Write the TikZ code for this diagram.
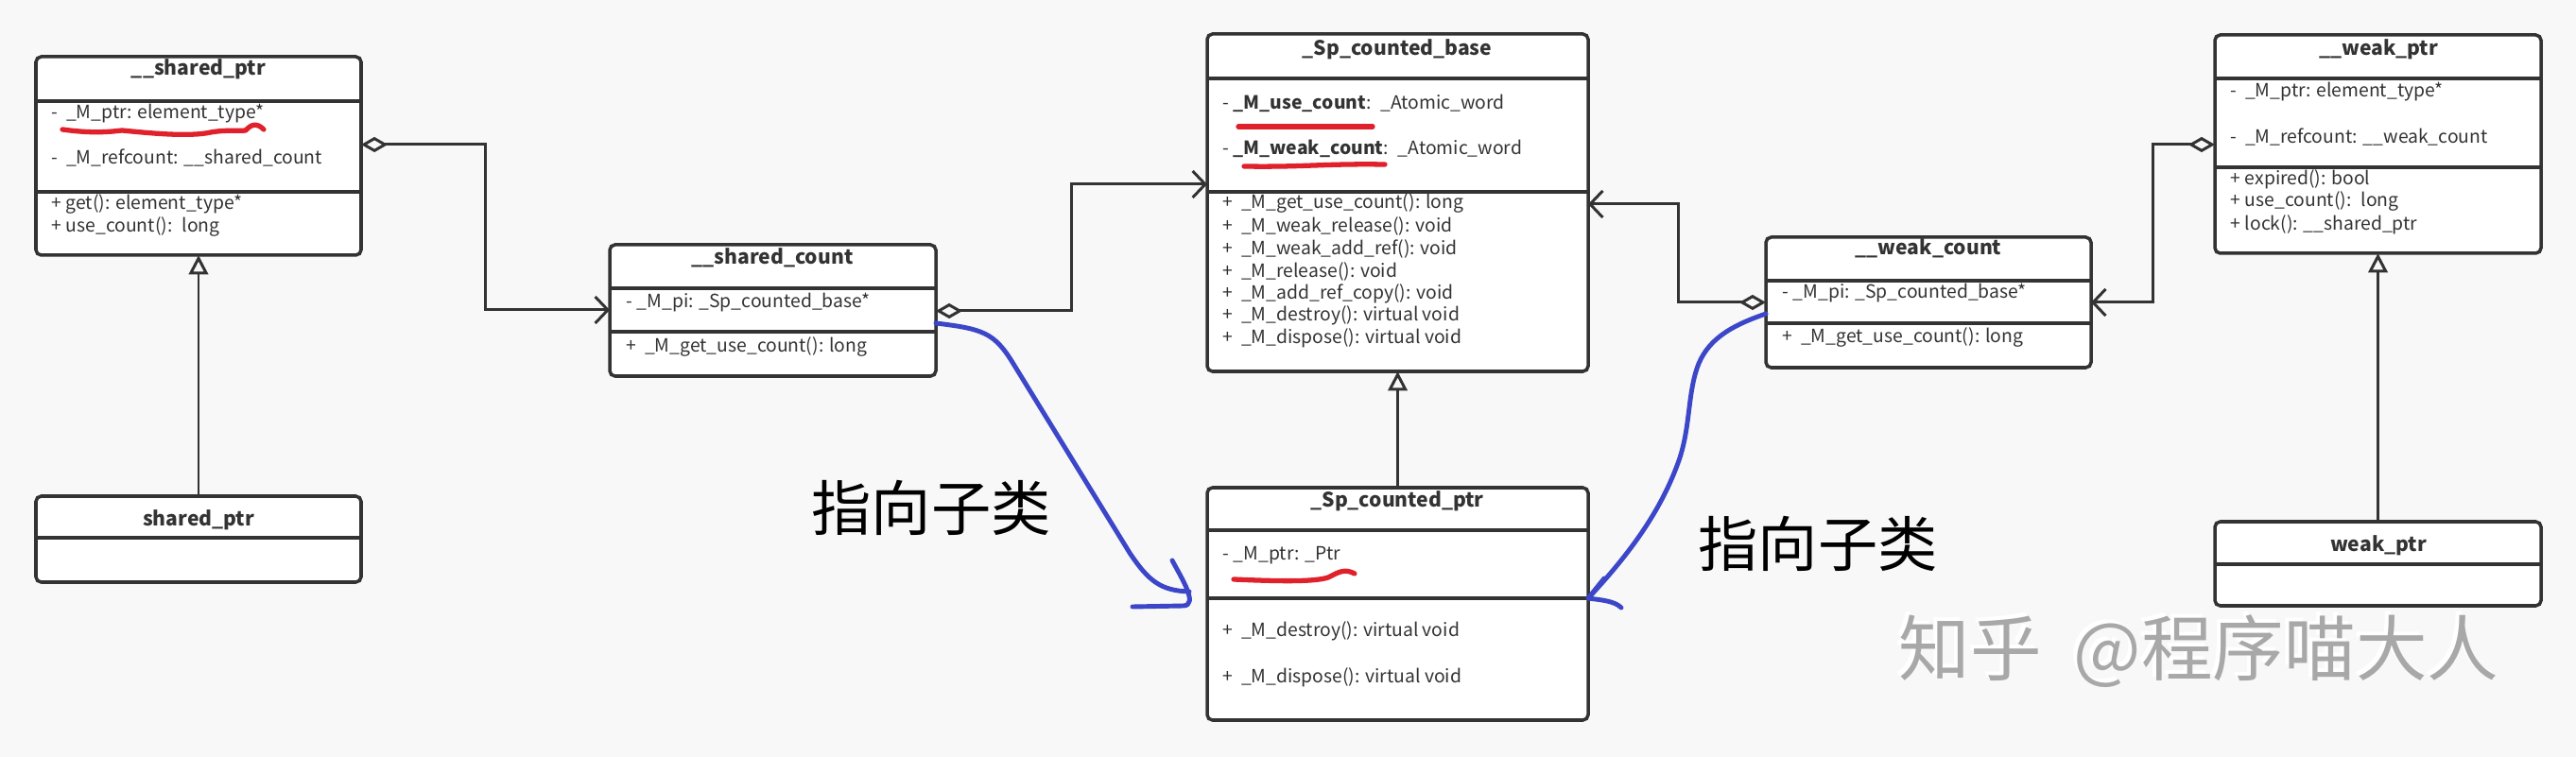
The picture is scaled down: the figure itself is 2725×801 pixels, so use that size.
\documentclass[tikz,border=0pt]{standalone}
\usepackage{fontspec}
\setmainfont{Noto Sans CJK SC}
\usetikzlibrary{arrows.meta,fit}
\definecolor{umlgray}{HTML}{333333}
\definecolor{bgcolor}{HTML}{F8F8F8}
\definecolor{penred}{HTML}{E0202A}
\definecolor{penblue}{HTML}{3C46C8}
\definecolor{markgray}{HTML}{A8A8A8}

\begin{document}
\begin{tikzpicture}[x=0.01cm, y=-0.01cm,
    umlbox/.style={draw=umlgray, line width=1pt, fill=white, rounded corners=1.6pt, inner sep=0pt, outer sep=0pt},
    umlline/.style={draw=umlgray, line width=0.9pt},
    classname/.style={font=\fontsize{6}{7}\selectfont\bfseries, text=umlgray, inner sep=0pt},
    member/.style={anchor=west, font=\fontsize{5.5}{6.6}\selectfont, text=umlgray, inner sep=0pt},
    hasa/.style={draw=umlgray, line width=0.85pt, {Diamond[open,length=8pt,width=4.6pt]}-{Straight Barb[length=3.8pt,width=8pt]}},
    isa/.style={draw=umlgray, line width=0.85pt, -{Triangle[open,length=5.8pt,width=5.8pt]}},
    redpen/.style={draw=penred, line width=1.5pt, line cap=round, line join=round},
    bluepen/.style={draw=penblue, line width=1.4pt, line cap=round, line join=round},
    note/.style={font=\fontsize{18}{20}\selectfont, inner sep=0pt},
    watermark/.style={font=\fontsize{21.5}{23}\selectfont, inner sep=0pt},
    ]
\fill[bgcolor] (0,0) rectangle (2725,801);
\useasboundingbox (0,0) rectangle (2725,801);

\node[umlbox, fit={(38,60) (382,270)}] (sptr) {};
\draw[umlline] (38,107) -- (382,107);
\draw[umlline] (38,203) -- (382,203);
\node[classname] (sptr-name) at (210,73) {\_\_shared\_ptr};
\node[member] (sptr-a1) at (54,120) {- \ \_M\_ptr: element\_type*};
\node[member] (sptr-a2) at (54,167) {- \ \_M\_refcount: \_\_shared\_count};
\node[member] (sptr-m1) at (54,216) {+ get(): element\_type*};
\node[member] (sptr-m2) at (54,240) {+ use\_count(): \ long};

\node[umlbox, fit={(38,525) (382,616)}] (sharedptr) {};
\draw[umlline] (38,569) -- (382,569);
\node[classname] (sharedptr-name) at (210,550) {shared\_ptr};

\node[umlbox, fit={(645,259) (990,398)}] (scount) {};
\draw[umlline] (645,305) -- (990,305);
\draw[umlline] (645,351) -- (990,351);
\node[classname] (scount-name) at (817,273) {\_\_shared\_count};
\node[member] (scount-a1) at (662,320) {- \_M\_pi: \_Sp\_counted\_base*};
\node[member] (scount-m1) at (662,367) {+ \ \_M\_get\_use\_count(): long};

\node[umlbox, fit={(1277,36) (1680,393)}] (cbase) {};
\draw[umlline] (1277,83) -- (1680,83);
\draw[umlline] (1277,203) -- (1680,203);
\node[classname] (cbase-name) at (1478,52) {\_Sp\_counted\_base};
\node[member] (cbase-a1) at (1293,109) {- \textbf{\_M\_use\_count}: \ \_Atomic\_word};
\node[member] (cbase-a2) at (1293,157) {- \textbf{\_M\_weak\_count}: \ \_Atomic\_word};
\node[member] (cbase-m1) at (1293,215) {+ \ \_M\_get\_use\_count(): long};
\node[member] (cbase-m2) at (1293,239) {+ \ \_M\_weak\_release(): void};
\node[member] (cbase-m3) at (1293,263) {+ \ \_M\_weak\_add\_ref(): void};
\node[member] (cbase-m4) at (1293,287) {+ \ \_M\_release(): void};
\node[member] (cbase-m5) at (1293,311) {+ \ \_M\_add\_ref\_copy(): void};
\node[member] (cbase-m6) at (1293,334) {+ \ \_M\_destroy(): virtual void};
\node[member] (cbase-m7) at (1293,358) {+ \ \_M\_dispose(): virtual void};

\node[umlbox, fit={(1277,516) (1680,762)}] (cptr) {};
\draw[umlline] (1277,561) -- (1680,561);
\draw[umlline] (1277,633) -- (1680,633);
\node[classname] (cptr-name) at (1478,530) {\_Sp\_counted\_ptr};
\node[member] (cptr-a1) at (1293,588) {- \_M\_ptr: \_Ptr};
\node[member] (cptr-m1) at (1293,668) {+ \ \_M\_destroy(): virtual void};
\node[member] (cptr-m2) at (1293,717) {+ \ \_M\_dispose(): virtual void};

\node[umlbox, fit={(1868,251) (2212,389)}] (wcount) {};
\draw[umlline] (1868,297) -- (2212,297);
\draw[umlline] (1868,342) -- (2212,342);
\node[classname] (wcount-name) at (2040,263) {\_\_weak\_count};
\node[member] (wcount-a1) at (1885,310) {- \_M\_pi: \_Sp\_counted\_base*};
\node[member] (wcount-m1) at (1885,357) {+ \ \_M\_get\_use\_count(): long};

\node[umlbox, fit={(2343,37) (2688,268)}] (wptr) {};
\draw[umlline] (2343,83) -- (2688,83);
\draw[umlline] (2343,177) -- (2688,177);
\node[classname] (wptr-name) at (2516,52) {\_\_weak\_ptr};
\node[member] (wptr-a1) at (2359,97) {- \ \_M\_ptr: element\_type*};
\node[member] (wptr-a2) at (2359,145) {- \ \_M\_refcount: \_\_weak\_count};
\node[member] (wptr-m1) at (2359,190) {+ expired(): bool};
\node[member] (wptr-m2) at (2359,213) {+ use\_count(): \ long};
\node[member] (wptr-m3) at (2359,238) {+ lock(): \_\_shared\_ptr};

\node[umlbox, fit={(2343,552) (2688,641)}] (weakptr) {};
\draw[umlline] (2343,597) -- (2688,597);
\node[classname] (weakptr-name) at (2516,577) {weak\_ptr};

\draw[hasa] (sptr.east |- 0,153) -- (513,153) |- (scount.west |- 0,328);
\draw[hasa] (scount.east |- 0,329) -- (1133,329) |- (cbase.west |- 0,195);
\draw[hasa] (wcount.west |- 0,320) -- (1775,320) |- (cbase.east |- 0,216);
\draw[hasa] (wptr.west |- 0,153) -- (2277,153) |- (wcount.east |- 0,320);
\draw[isa] (sharedptr.north) -- (sptr.south);
\draw[isa] (cptr.north) -- (cbase.south);
\draw[isa] (weakptr.north) -- (wptr.south);

\draw[redpen] (66,137) .. controls (95,141) and (112,140) .. (129,138) .. controls (160,141) and (200,145) .. (223,140) .. controls (240,137) and (252,139) .. (260,138) .. controls (266,131) and (272,130) .. (279,137);
\draw[redpen] (1310,134) -- (1452,134);
\draw[redpen] (1316,176) .. controls (1380,177) and (1400,173) .. (1465,174);
\draw[redpen] (1305,613) .. controls (1350,615) and (1390,616) .. (1405,611) .. controls (1415,606) and (1422,601) .. (1433,607);

\draw[bluepen] (scount.east |- 0,342) .. controls (1040,348) and (1052,352) .. (1072,385) -- (1195,585) .. controls (1215,615) and (1228,625) .. (1258,626);
\draw[bluepen] (1240,593) .. controls (1250,612) and (1268,640) .. (1252,641) -- (1198,642);
\draw[bluepen] (wcount.west |- 0,332) .. controls (1830,345) and (1805,360) .. (1795,390) .. controls (1785,420) and (1788,455) .. (1775,490) .. controls (1755,545) and (1720,590) .. (cptr.east |- 0,633);
\draw[bluepen] (1697,612) -- (cptr.east |- 0,633) .. controls (1695,635) and (1708,636) .. (1715,643);

\node[note] (note-left) at (985,537) {指向子类};
\node[note] (note-right) at (1923,575) {指向子类};

\node[watermark, text=white] (wm-shadow) at (2322,685) {知乎 \ @程序喵大人};
\node[watermark, text=markgray] (wm) at (2326,689) {知乎 \ @程序喵大人};
\end{tikzpicture}
\end{document}
